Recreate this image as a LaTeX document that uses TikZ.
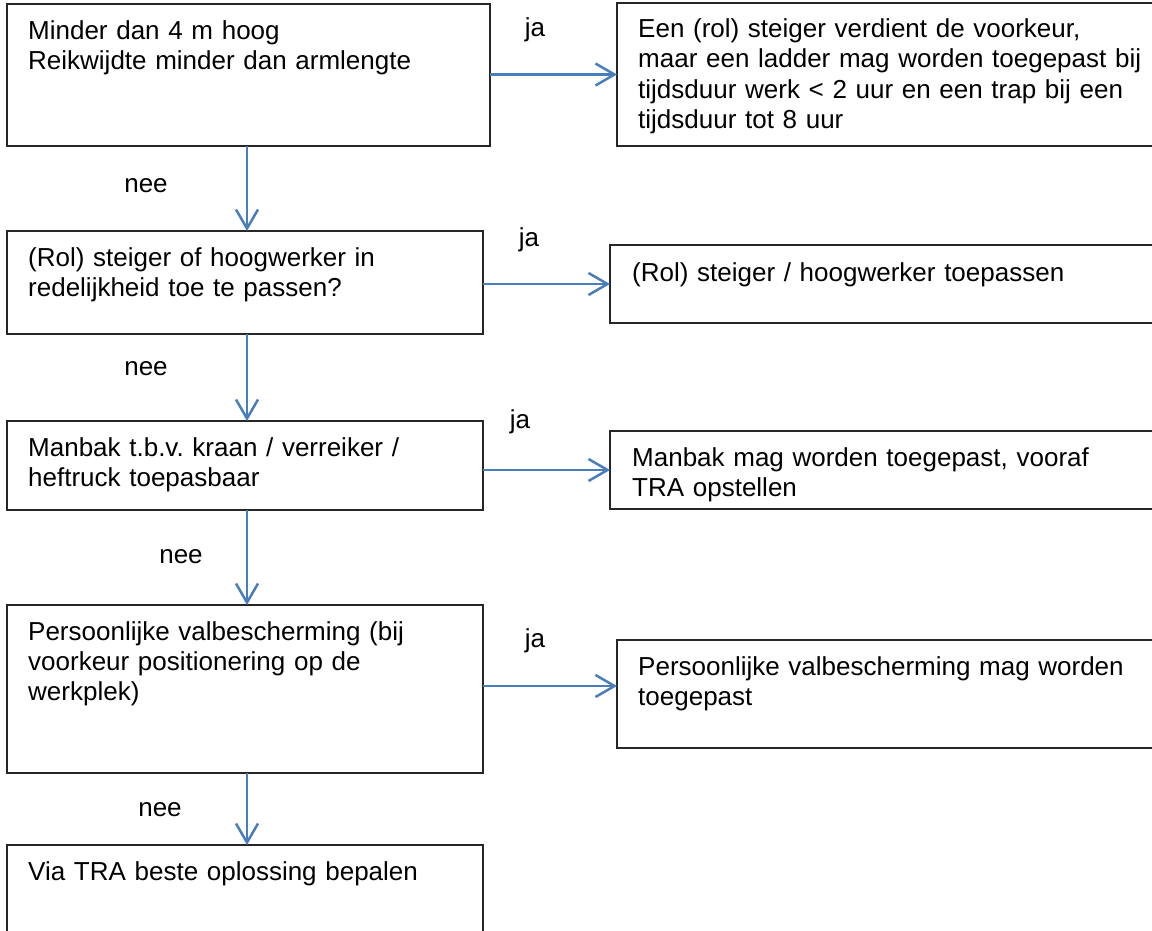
\documentclass[tikz,border=0pt]{standalone}
\usepackage{fontspec}
\setmainfont{Liberation Sans}
\usetikzlibrary{arrows.meta}
\definecolor{arrowblue}{HTML}{4A7EBB}
\definecolor{boxline}{HTML}{262626}
\frenchspacing
\begin{document}
\begin{tikzpicture}[x=1pt,y=-1pt,
  box/.style={draw=boxline, line width=1.3pt, anchor=north west, inner sep=0pt, outer sep=0pt},
  txt/.style={anchor=base west, inner sep=0pt, text width=530pt, align=left, font=\fontsize{26}{30.4}\selectfont},
  lbl/.style={anchor=base, inner sep=0pt, font=\fontsize{26}{30.4}\selectfont},
  flow/.style={draw=arrowblue, line width=2.5pt, -{Straight Barb[length=19pt,width=22pt,line width=2.5pt]}}]
\useasboundingbox (0,0) rectangle (1152,931);
\clip (0,0) rectangle (1152,931);
% left column boxes
\node[box, minimum width=483pt, minimum height=142pt] (b1) at (7,4) {};
\node[box, minimum width=476pt, minimum height=103pt] (b2) at (7,231) {};
\node[box, minimum width=476pt, minimum height=89pt] (b3) at (7,421) {};
\node[box, minimum width=476pt, minimum height=168pt] (b4) at (7,605) {};
\node[box, minimum width=476pt, minimum height=120pt] (b5) at (7,845) {};
% right column boxes
\node[box, minimum width=560pt, minimum height=143pt] (r1) at (617,3) {};
\node[box, minimum width=560pt, minimum height=78pt] (r2) at (610,245) {};
\node[box, minimum width=560pt, minimum height=78pt] (r3) at (610,431) {};
\node[box, minimum width=560pt, minimum height=108pt] (r4) at (617,640) {};
% texts
\node[txt] (t1) at (28,39.5) {Minder dan 4 m hoog\\Reikwijdte minder dan armlengte};
\node[txt] (t2) at (28,266) {(Rol) steiger of hoogwerker in\\redelijkheid toe te passen?};
\node[txt] (t3) at (28,456) {Manbak t.b.v. kraan / verreiker /\\heftruck toepasbaar};
\node[txt] (t4) at (28,640) {Persoonlijke valbescherming (bij\\voorkeur positionering op de\\werkplek)};
\node[txt] (t5) at (28,880) {Via TRA beste oplossing bepalen};
\node[txt] (u1) at (638,37.5) {Een (rol) steiger verdient de voorkeur,\\maar een ladder mag worden toegepast bij\\tijdsduur werk < 2 uur en een trap bij een\\tijdsduur tot 8 uur};
\node[txt] (u2) at (632,281) {(Rol) steiger / hoogwerker toepassen};
\node[txt] (u3) at (632,466) {Manbak mag worden toegepast, vooraf\\TRA opstellen};
\node[txt] (u4) at (638,675) {Persoonlijke valbescherming mag worden\\toegepast};
% labels
\node[lbl] (ja1) at (535,37) {ja};
\node[lbl] (ja2) at (529,247) {ja};
\node[lbl] (ja3) at (520,428) {ja};
\node[lbl] (ja4) at (535,647) {ja};
\node[lbl] (nee1) at (146,193) {nee};
\node[lbl] (nee2) at (146,375) {nee};
\node[lbl] (nee3) at (181,563) {nee};
\node[lbl] (nee4) at (160,816) {nee};
% connectors
\coordinate (col) at (247,0);
\coordinate (h4) at (0,686);
\draw[flow] (b1.south -| col) -- (b2.north -| col);
\draw[flow] (b2.south -| col) -- (b3.north -| col);
\draw[flow] (b3.south -| col) -- (b4.north -| col);
\draw[flow] (b4.south -| col) -- (b5.north -| col);
\draw[flow] (b1.east |- r1.west) -- (r1.west);
\draw[flow] (b2.east |- r2.west) -- (r2.west);
\draw[flow] (b3.east |- r3.west) -- (r3.west);
\draw[flow] (b4.east |- h4) -- (r4.west |- h4);
\end{tikzpicture}
\end{document}
